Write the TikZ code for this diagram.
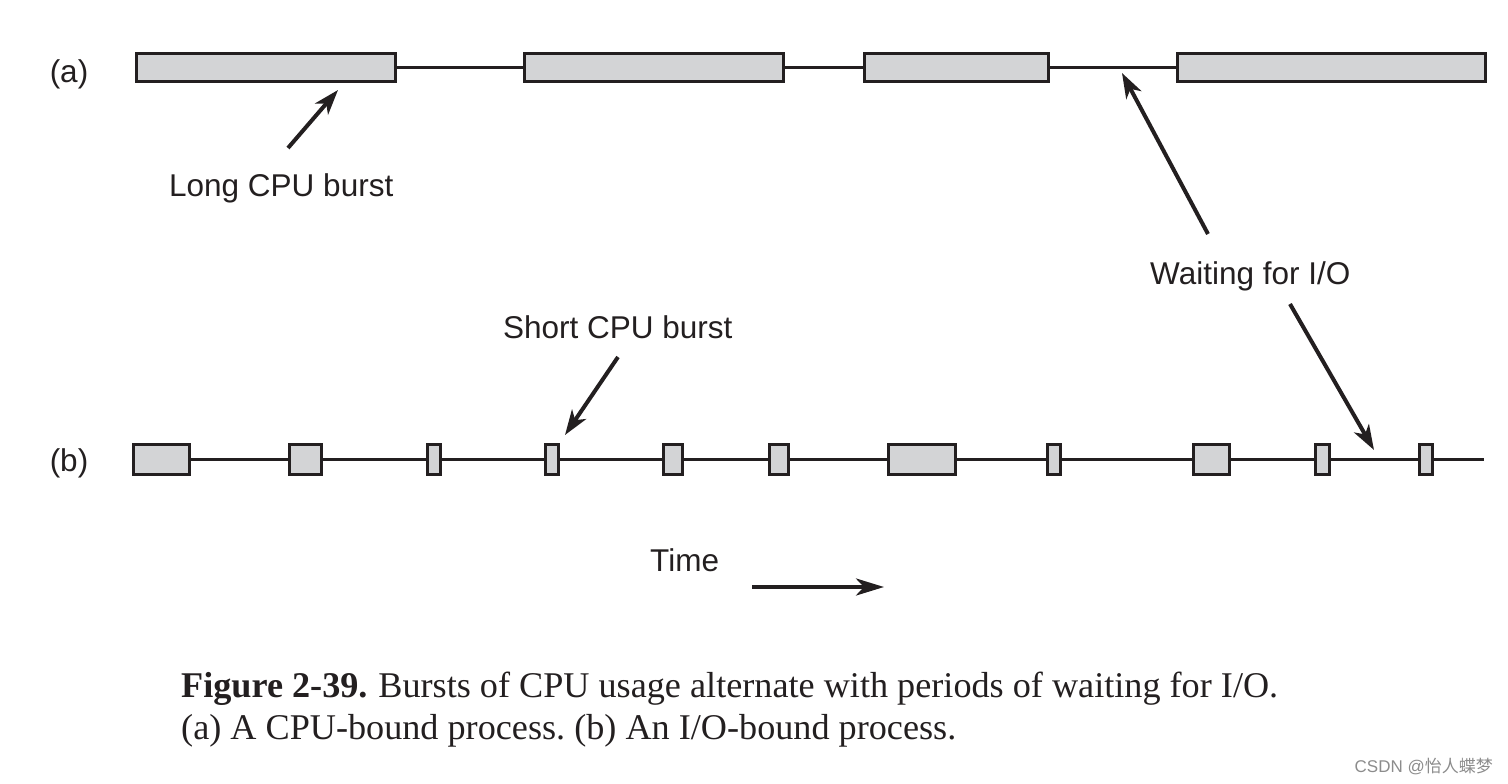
\documentclass[tikz,border=0pt]{standalone}
\usepackage{fontspec}
\setmainfont{Liberation Serif}
\setsansfont{Liberation Sans}
\newfontfamily\cjkfont{Noto Sans CJK SC}
\usetikzlibrary{arrows.meta}
\definecolor{boxfill}{RGB}{211,212,214}
\definecolor{ink}{RGB}{35,31,32}
\tikzset{
  burst/.style={draw=ink, fill=boxfill, line width=3.4pt, inner sep=0pt, minimum height=#1},
  burst/.default=28pt,
  rowa/.style={burst=28pt},
  rowb/.style={burst=30pt},
  wire/.style={draw=ink, line width=2.6pt},
  pointer/.style={draw=ink, line width=4pt, -{Stealth[length=25pt,width=17pt,inset=7pt]}},
  lbl/.style={font=\sffamily\fontsize{31.5}{38}\selectfont, text=ink, inner sep=0pt},
  captext/.style={font=\rmfamily\fontsize{36.2}{42}\selectfont, text=ink, inner sep=0pt},
}
\begin{document}
\frenchspacing
\begin{tikzpicture}[x=1pt,y=-1pt]
\useasboundingbox (0,0) rectangle (1508,784);
% row (a)
\node[lbl] (la) at (69,74) {(a)};
\node[rowa, minimum width=259pt] (a1) at (266,67.5) {};
\node[rowa, minimum width=259pt] (a2) at (654,67.5) {};
\node[rowa, minimum width=184pt] (a3) at (956.5,67.5) {};
\node[rowa, minimum width=308pt] (a4) at (1331.5,67.5) {};
\draw[wire] (a1.east) -- (a2.west);
\draw[wire] (a2.east) -- (a3.west);
\draw[wire] (a3.east) -- (a4.west);
% row (b)
\node[lbl] (lb) at (69,463) {(b)};
\node[rowb, minimum width=56pt] (b1) at (161.5,459.5) {};
\node[rowb, minimum width=32pt] (b2) at (305.5,459.5) {};
\node[rowb, minimum width=13pt] (b3) at (434,459.5) {};
\node[rowb, minimum width=13pt] (b4) at (552,459.5) {};
\node[rowb, minimum width=19pt] (b5) at (673,459.5) {};
\node[rowb, minimum width=19pt] (b6) at (779,459.5) {};
\node[rowb, minimum width=67pt] (b7) at (922,459.5) {};
\node[rowb, minimum width=13pt] (b8) at (1054,459.5) {};
\node[rowb, minimum width=36pt] (b9) at (1211.5,459.5) {};
\node[rowb, minimum width=14pt] (b10) at (1322.5,459.5) {};
\node[rowb, minimum width=13pt] (b11) at (1426,459.5) {};
\coordinate (bend) at (1484,459.5);
\draw[wire] (b1.east) -- (b2.west);
\draw[wire] (b2.east) -- (b3.west);
\draw[wire] (b3.east) -- (b4.west);
\draw[wire] (b4.east) -- (b5.west);
\draw[wire] (b5.east) -- (b6.west);
\draw[wire] (b6.east) -- (b7.west);
\draw[wire] (b7.east) -- (b8.west);
\draw[wire] (b8.east) -- (b9.west);
\draw[wire] (b9.east) -- (b10.west);
\draw[wire] (b10.east) -- (b11.west);
\draw[wire] (b11.east) -- (bend);
% labels and pointers
\node[lbl, anchor=base west] (long) at (169,196) {Long CPU burst};
\coordinate (longtail) at (288,148);
\coordinate (longtip) at (338,90);
\draw[pointer] (longtail) -- (longtip);

\node[lbl, anchor=base west] (wait) at (1150,284) {Waiting for I/O};
\coordinate (waittail1) at (1208,234);
\coordinate (waittip1) at (1122,73);
\draw[pointer] (waittail1) -- (waittip1);
\coordinate (waittail2) at (1290,304);
\coordinate (waittip2) at (1374,450);
\draw[pointer] (waittail2) -- (waittip2);

\node[lbl, anchor=base west] (short) at (503,338) {Short CPU burst};
\coordinate (shorttail) at (618,357);
\coordinate (shorttip) at (565,435);
\draw[pointer] (shorttail) -- (shorttip);

\node[lbl, anchor=base west] (time) at (650,571) {Time};
\coordinate (timetail) at (752,587);
\coordinate (timetip) at (884,587);
\draw[draw=ink, line width=4pt, -{Stealth[length=28pt,width=17pt,inset=8pt]}] (timetail) -- (timetip);

% caption
\node[captext, anchor=base west] (cap1) at (181,697) {\textbf{Figure 2-39.}\hspace{0.3em}Bursts of CPU usage alternate with periods of waiting for I/O.};
\node[captext, anchor=base west] (cap2) at (181,739) {(a) A CPU-bound process. (b) An I/O-bound process.};

% watermark
\node[anchor=base east, inner sep=0pt, text=black!45, font=\sffamily\fontsize{17}{20}\selectfont] (wm) at (1493,772) {CSDN @{\cjkfont 怡人蝶梦}};
\end{tikzpicture}
\end{document}
